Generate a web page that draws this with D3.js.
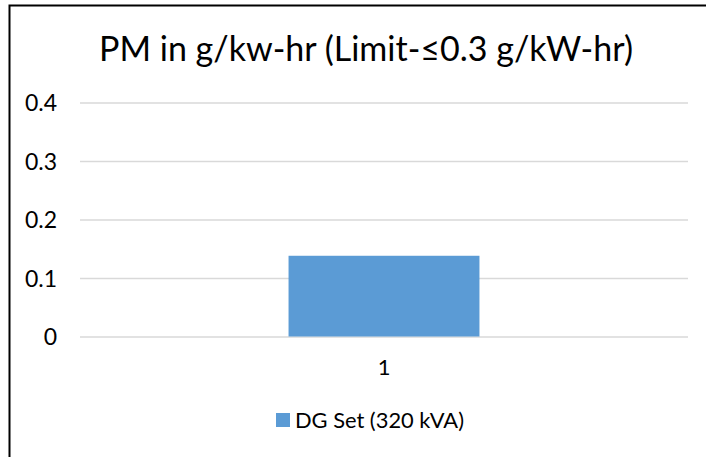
<!DOCTYPE html>
<html><head><meta charset="utf-8">
<script src="https://cdn.jsdelivr.net/npm/d3@7"></script>
<style>html,body{margin:0;padding:0;background:#fff;}svg{display:block;}</style>
</head><body>
<svg id="c" width="706" height="457"></svg>
<script>
const title = "PM in g/kw-hr (Limit-\u22640.3 g/kW-hr)";
const categories = ["1"];
const seriesName = "DG Set (320 kVA)";
const values = [0.138];
const yTicks = [0, 0.1, 0.2, 0.3, 0.4];

const W = 706, H = 457;
const FONT = "Lato, 'Open Sans', sans-serif";
const svg = d3.select("#c");
const m = {left: 80, right: 18, top: 102.5, bottom: 120.5};

const x = d3.scaleBand().domain(categories).range([m.left, W - m.right])
  .paddingInner(0.686).paddingOuter(0.343);
const y = d3.scaleLinear().domain([0, 0.4]).range([H - m.bottom, m.top]);

// border
svg.append("path").attr("d", `M9.5,${H} L9.5,5.5 L${W},5.5`)
  .attr("fill", "none").attr("stroke", "#000").attr("stroke-width", 2);

// title
svg.append("text").attr("x", 99).attr("y", 61)
  .attr("font-family", FONT).attr("font-size", 34).attr("fill", "#000")
  .attr("textLength", 534).attr("lengthAdjust", "spacingAndGlyphs")
  .text(title);

// gridlines + y labels
const yAxis = d3.axisLeft(y).tickValues(yTicks).tickFormat(d => d === 0 ? "0" : d3.format(".1f")(d))
  .tickSize(-(W - m.left - m.right)).tickPadding(23);
const ga = svg.append("g").attr("transform", `translate(${m.left},0)`).call(yAxis);
ga.select(".domain").remove();
ga.selectAll(".tick line").attr("stroke", "#d9d9d9").attr("stroke-width", 1.5);
ga.selectAll(".tick text").style("font-family", FONT).style("font-size", "23px").attr("fill", "#000")
  .attr("dy", "0.35em");

// bars
svg.append("g").selectAll("rect").data(values).join("rect")
  .attr("x", (d, i) => x(categories[i])).attr("width", x.bandwidth())
  .attr("y", d => y(d)).attr("height", d => y(0) - y(d))
  .attr("fill", "#5b9bd5");

// x axis labels
const xAxis = d3.axisBottom(x).tickSize(0).tickPadding(23);
const gx = svg.append("g").attr("transform", `translate(0,${y(0)})`).call(xAxis);
gx.select(".domain").remove();
gx.selectAll(".tick text").style("font-family", FONT).style("font-size", "22px").attr("fill", "#000")
  .attr("dy", "0.71em");

// legend
const lg = svg.append("g");
lg.append("rect").attr("x", 276).attr("y", 413).attr("width", 14).attr("height", 14).attr("fill", "#5b9bd5");
lg.append("text").attr("x", 295).attr("y", 427.5).style("font-family", FONT).style("font-size", "21px")
  .attr("fill", "#000").attr("textLength", 169).attr("lengthAdjust", "spacingAndGlyphs").text(seriesName);
</script>
</body></html>
